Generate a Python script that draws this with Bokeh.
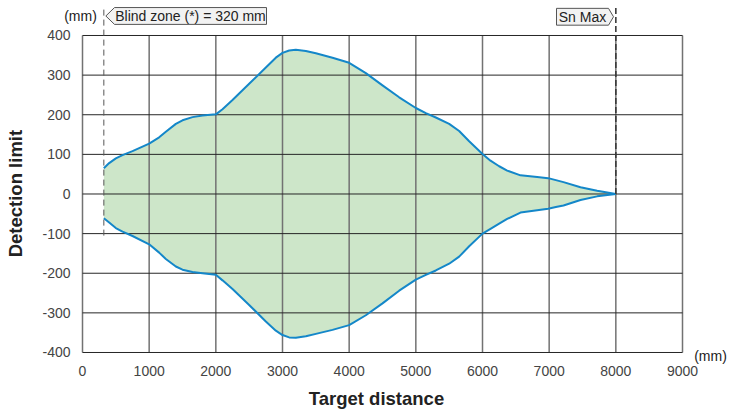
import math
from bokeh.plotting import figure
from bokeh.models import Range1d, FixedTicker, LinearAxis, ColumnDataSource
from bokeh.core.properties import value
from bokeh.embed import file_html
from bokeh.resources import INLINE

# ---- data ----
DIST = [320, 400, 500, 600, 750, 1000, 1150, 1250, 1400, 1500, 1650, 1800,
        2000, 2100, 2250, 2500, 2750, 2900, 3000, 3100, 3200, 3350, 3500, 3750,
        4000, 4250, 4500, 4750, 5000, 5150, 5300, 5500, 5650, 5800, 6000, 6120,
        6250, 6370, 6570, 6820, 6985, 7100, 7215, 7470, 7720, 8000]
UPPER = [65, 78, 90, 98, 108, 127, 143, 157, 177, 186, 194, 198,
         201, 214, 237, 278, 319, 344, 356, 362, 364, 361, 355, 344,
         331, 305, 274, 244, 217, 204, 193, 177, 159, 133, 101, 84,
         70, 59, 47, 43, 40, 35, 30, 17, 8, 0]
LOWER = [-61, -72, -86, -95, -106, -127, -148, -164, -183, -191, -197, -200,
         -204, -218, -240, -280, -322, -345, -356, -362, -363, -359, -353, -343,
         -331, -306, -276, -244, -216, -204, -193, -176, -158, -132, -100, -88,
         -75, -63, -47, -41, -37, -33, -29, -15, -6, 0]
X_TICKS = [0, 1000, 2000, 3000, 4000, 5000, 6000, 7000, 8000, 9000]
Y_TICKS = [-400, -300, -200, -100, 0, 100, 200, 300, 400]
BLIND_ZONE = 320
SN_MAX = 8000
BLIND_TEXT = "Blind zone (*) = 320 mm"
SN_TEXT = "Sn Max"
X_TITLE = "Target distance"
Y_TITLE = "Detection limit"
UNIT = "(mm)"

FONT = "Liberation Sans"
X_MIN, X_MAX = X_TICKS[0], X_TICKS[-1]
Y_MIN, Y_MAX = Y_TICKS[0], Y_TICKS[-1]

# frame covers the whole canvas; axes are pinned at data locations
p = figure(width=729, height=414,
           x_range=Range1d(-1230, 9705), y_range=Range1d(-556.5, 488.3),
           min_border_left=0, min_border_right=0, min_border_top=0,
           min_border_bottom=0, outline_line_color=None,
           x_axis_location=None, y_axis_location=None,
           toolbar_location=None, output_backend="svg")
p.background_fill_color = "white"
p.border_fill_color = "white"
p.xgrid.visible = False
p.ygrid.visible = False

# filled area
src = ColumnDataSource(dict(x=DIST, lo=LOWER, hi=UPPER))
p.varea(x="x", y1="lo", y2="hi", source=src, fill_color="#cde6c9", fill_alpha=1.0)

# grid lines
p.segment(x0=X_TICKS, y0=[Y_MIN] * len(X_TICKS), x1=X_TICKS, y1=[Y_MAX] * len(X_TICKS),
          line_color="#727272", line_width=1.5)
p.segment(x0=[X_MIN] * len(Y_TICKS), y0=Y_TICKS, x1=[X_MAX] * len(Y_TICKS), y1=Y_TICKS,
          line_color="#262626", line_width=1)

# curves
p.line(DIST, UPPER, line_color="#1487c9", line_width=2, line_join="round")
p.line(DIST, LOWER, line_color="#1487c9", line_width=2, line_join="round")

# dashed markers
p.segment(x0=[BLIND_ZONE], y0=[-105], x1=[BLIND_ZONE], y1=[475],
          line_color="#555555", line_width=1, line_dash="6 4")
p.segment(x0=[SN_MAX], y0=[0], x1=[SN_MAX], y1=[475],
          line_color="#3a3a3a", line_width=1.6, line_dash="6 3")

# label boxes (arrow-shaped)
top, bot, mid = 470.5, 428, 449.2
bx_tip, bx_l, bx_r = BLIND_ZONE + 30, BLIND_ZONE + 160, BLIND_ZONE + 2440
p.patch([bx_tip, bx_l, bx_r, bx_r, bx_l], [mid, top, top, bot, bot],
        fill_color="#f2f2f2", line_color="#555555", line_width=1)
sx_tip, sx_r, sx_l = SN_MAX - 35, SN_MAX - 110, SN_MAX - 890
p.patch([sx_l, sx_r, sx_tip, sx_r, sx_l], [top - 2, top - 2, mid - 2, bot - 2, bot - 2],
        fill_color="#f2f2f2", line_color="#555555", line_width=1)

txt = dict(text_font=value(FONT), text_font_size="14px", text_color="#222222",
           text_align="center", text_baseline="middle")
p.text(x=[(bx_l + bx_r) / 2], y=[mid], text=[BLIND_TEXT], **txt)
p.text(x=[(sx_l + sx_r) / 2], y=[mid - 2], text=[SN_TEXT], **txt)

# unit labels
p.text(x=[-30], y=[450], text=[UNIT], **txt)
p.text(x=[9420], y=[-408], text=[UNIT], **txt)

# axis titles
title = dict(text_font=value(FONT), text_font_size="18.5px", text_font_style="bold",
             text_color="#222222", text_align="center", text_baseline="middle")
p.text(x=[4410], y=[-516], text=[X_TITLE], **title)
p.text(x=[-1005], y=[1], text=[Y_TITLE], angle=math.pi / 2, **title)

# axes pinned at the plot edges
xax = LinearAxis(fixed_location=Y_MIN)
yax = LinearAxis(fixed_location=X_MIN)
p.add_layout(xax, "below")
p.add_layout(yax, "left")
for ax, ticks, bounds in ((xax, X_TICKS, (X_MIN, X_MAX)), (yax, Y_TICKS, (Y_MIN, Y_MAX))):
    ax.ticker = FixedTicker(ticks=ticks)
    ax.bounds = bounds
    ax.major_label_overrides = {t: str(t) for t in ticks}
    ax.axis_line_color = None
    ax.major_tick_line_color = None
    ax.minor_tick_line_color = None
    ax.major_tick_out = 0
    ax.major_tick_in = 0
    ax.minor_tick_out = 0
    ax.major_label_text_font = FONT
    ax.major_label_text_font_size = "14px"
    ax.major_label_text_color = "#444444"
xax.major_label_standoff = 14
yax.major_label_standoff = 12

open("out.html", "w").write(file_html(p, INLINE))
